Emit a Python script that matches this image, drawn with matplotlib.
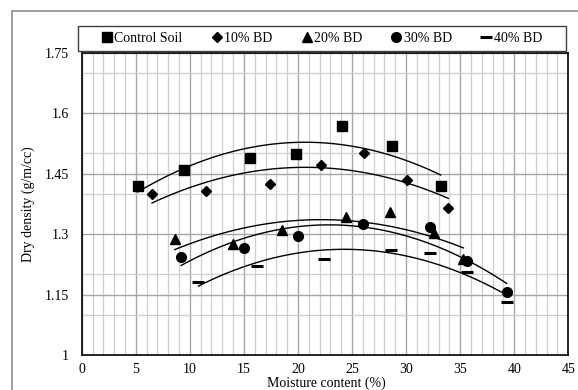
import numpy as np
import matplotlib.pyplot as plt
from matplotlib.patches import Rectangle
from matplotlib.ticker import MultipleLocator

plt.rcParams['font.family'] = ['Liberation Serif', 'DejaVu Serif']
plt.rcParams['font.size'] = 10

# moisture content (%) and dry density (g/m/cc)
control_x = [5.2, 9.5, 15.6, 19.8, 24.1, 28.7, 33.2]
control_y = [1.419, 1.459, 1.489, 1.499, 1.569, 1.519, 1.419]
bd10_x = [6.5, 11.5, 17.4, 22.1, 26.1, 30.1, 33.9]
bd10_y = [1.400, 1.406, 1.425, 1.471, 1.500, 1.433, 1.364]
bd20_x = [8.6, 14.0, 18.5, 24.4, 28.5, 32.6, 35.3]
bd20_y = [1.287, 1.275, 1.310, 1.343, 1.356, 1.303, 1.237]
bd30_x = [9.2, 15.0, 20.0, 26.0, 32.2, 35.6, 39.3]
bd30_y = [1.244, 1.265, 1.295, 1.325, 1.318, 1.234, 1.156]
bd40_x = [10.8, 16.2, 22.4, 28.6, 32.2, 35.6, 39.3]
bd40_y = [1.182, 1.221, 1.238, 1.260, 1.252, 1.207, 1.131]

series = [
    ('Control Soil', control_x, control_y, 's', 6.5, 1),
    ('10% BD', bd10_x, bd10_y, 'D', 5, 1),
    ('20% BD', bd20_x, bd20_y, '^', 6.5, 1),
    ('30% BD', bd30_x, bd30_y, 'o', 7, 1),
    ('40% BD', bd40_x, bd40_y, '_', 8, 2.2),
]

W, H = 578, 390
fig = plt.figure(figsize=(W / 100, H / 100), dpi=100)
ax = fig.add_axes([81.7 / W, 1 - 355 / H, (568.3 - 81.7) / W, (355 - 52.7) / H])

for name, xs, ys, mk, ms, mew in series:
    ax.plot(xs, ys, linestyle='none', marker=mk, markersize=ms, color='black',
            markeredgewidth=mew, label=name, zorder=3)
    # 2nd order polynomial trendline
    c = np.polyfit(xs, ys, 2)
    xx = np.linspace(min(xs), max(xs), 100)
    ax.plot(xx, np.polyval(c, xx), color='black', lw=1.0, zorder=2)

ax.set_xlim(0, 45)
ax.set_ylim(1, 1.75)
ax.xaxis.set_major_locator(MultipleLocator(5))
ax.xaxis.set_minor_locator(MultipleLocator(1))
ax.set_yticks([1, 1.15, 1.3, 1.45, 1.6, 1.75])
ax.set_yticklabels(['1', '1.15', '1.3', '1.45', '1.6', '1.75'])
ax.set_yticks([1.1, 1.2, 1.4, 1.5, 1.7], minor=True)
ax.grid(which='major', color='#a6a6a6', lw=1.0)
ax.grid(which='minor', color='#cfcfcf', lw=0.9)
ax.set_axisbelow(True)
ax.tick_params(which='both', length=0)
ax.tick_params(axis='y', pad=9)
ax.tick_params(axis='x', pad=6)
for s in ax.spines.values():
    s.set_color('black')
    s.set_linewidth(1.2)

ax.set_xlabel('Moisture content (%)')
ax.set_ylabel('Dry density (g/m/cc)')
ax.xaxis.set_label_coords(0.502, -0.07)
ax.yaxis.set_label_coords(-0.095, 0.5)

# legend box above the plot
fig.patches.append(Rectangle((78.3 / W, 1 - 50.7 / H), (566 - 78.3) / W, 25 / H,
                             transform=fig.transFigure, fill=False,
                             edgecolor='#404040', lw=1.0))
fig.legend(loc='center', bbox_to_anchor=(322 / W, 1 - 38.2 / H), ncol=5,
           frameon=False, handlelength=0.7, handletextpad=0.2,
           columnspacing=2.1, fontsize=10)

# outer chart border
fig.patches.append(Rectangle((12 / W, -0.05), 1.0, 1 - 11 / H + 0.05,
                             transform=fig.transFigure, fill=False,
                             edgecolor='#8c8c8c', lw=1.2))

fig.savefig('out.png', dpi=100)
